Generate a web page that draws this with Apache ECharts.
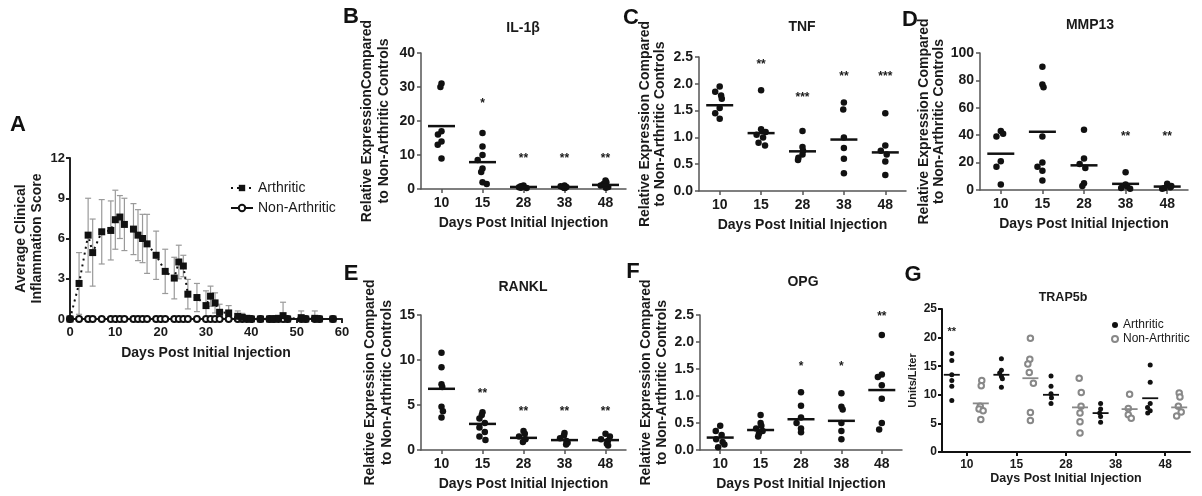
<!DOCTYPE html>
<html><head><meta charset="utf-8">
<script src="https://cdn.jsdelivr.net/npm/echarts@6/dist/echarts.min.js"></script>
<style>html,body{margin:0;padding:0;background:#fff}#c{width:1202px;height:496px}</style>
</head><body><div id="c"></div>
<script>
// ---------- DATA ----------
// Panel A: clinical inflammation score over time
const arthDays  = [0,2,4,5,7,9,10,11,12,14,15,16,17,19,21,23,24,25,26,28,30,31,32,33,35,37,38,39,40,42,44,45,46,47,48,51,52,54,55,58];
const arthMean  = [0,2.65,6.25,4.95,6.5,6.6,7.4,7.6,7.05,6.7,6.25,6.0,5.6,4.75,3.55,3.05,4.25,3.95,1.85,1.6,1.0,1.7,1.2,0.5,0.45,0.2,0.12,0.05,0,0,0,0,0.05,0.25,0,0.1,0,0.05,0,0];
const arthSD    = [0,2.3,2.75,2.5,2.4,2.2,2.2,1.6,1.95,1.9,1.9,1.8,2.2,1.8,1.65,1.55,1.25,0.8,1.1,1.05,1.1,0.75,0.75,0.6,0.55,0.4,0.3,0.2,0,0,0,0.1,0.15,1.0,0,0.5,0,0.55,0,0];
const nonDays   = [0,2,4,5,7,9,10,11,12,14,15,16,17,19,20,21,23,24,25,26,28,30,31,32,33,35,37,38,39,40,42,44,45,46,47,48,51,52,54,55,58];
const nonScore  = [0,0,0,0,0,0,0,0,0,0,0,0,0,0,0,0,0,0,0,0,0,0,0,0,0,0,0,0,0,0,0,0,0,0,0,0,0,0,0,0,0];

// Panels B-G: categories
const dayCats = ['10','15','28','38','48'];

const il1b      = [[31,30,17,16,14,13,9],[16.5,12.5,10,8.5,6,5,2,1.5],[1.0,0.8,0.6,0.5,0.4,0.3],[1.0,0.8,0.6,0.5,0.4,0.3],[2.5,2.0,1.5,1.0,0.6,0.4]];
const il1bLine  = [18.5,7.9,0.6,0.6,1.2];
const il1bStars = ['','*','**','**','**'];
const il1bStarY = [null,25,9,9,9];

const tnf       = [[1.95,1.85,1.78,1.72,1.55,1.45,1.35],[1.88,1.15,1.1,1.05,1.0,0.9,0.85],[1.12,0.82,0.75,0.68,0.62,0.58],[1.65,1.52,1.0,0.8,0.6,0.33],[1.45,0.85,0.75,0.68,0.55,0.3]];
const tnfLine   = [1.6,1.08,0.74,0.96,0.72];
const tnfStars  = ['','**','***','**','***'];
const tnfStarY  = [null,2.35,1.75,2.13,2.13];

const mmp13      = [[43,41,39,21,17,4],[90,77,75,39,20,17,14,7],[44,23,19,16,5,3],[13,4,2.5,1.5,1],[4.5,3,2,1.5,1]];
const mmp13Line  = [26.5,42.5,18,4.5,2.5];
const mmp13Stars = ['','','','**','**'];
const mmp13StarY = [null,null,null,39,39];

const rankl      = [[10.8,9.2,7.3,7.0,4.8,4.3,3.6],[4.2,3.9,3.5,3.0,2.5,2.0,1.5,1.1],[2.1,1.8,1.5,1.2,0.9],[1.9,1.6,1.3,1.0,0.8,0.6],[1.8,1.5,1.2,1.0,0.7,0.5]];
const ranklLine  = [6.8,2.9,1.35,1.1,1.1];
const ranklStars = ['','**','**','**','**'];
const ranklStarY = [null,6.3,4.3,4.3,4.3];

const opg      = [[0.45,0.35,0.28,0.2,0.15,0.1,0.05],[0.65,0.5,0.45,0.4,0.35,0.3,0.25],[1.07,0.82,0.6,0.5,0.4,0.33],[1.05,0.8,0.75,0.5,0.35,0.2],[2.13,1.4,1.35,1.2,0.95,0.5,0.38]];
const opgLine  = [0.23,0.37,0.57,0.54,1.11];
const opgStars = ['','','*','*','**'];
const opgStarY = [null,null,1.54,1.54,2.47];

const trapArth      = [[17.2,16,13.5,12.5,11.5,9],[16.3,14.3,13.8,13.2,12.8,11.3],[13.3,11.5,10.2,9.5,8.5],[8.5,7.5,6.8,6.2,5.2],[15.2,12.2,8.5,7.8,7.2,6.8]];
const trapArthLine  = [13.5,13.5,10,6.8,9.4];
const trapNon       = [[12.5,11.6,8,7.5,7.2,5.7],[19.9,16.2,15.4,13.9,12,6.9,5.5],[12.9,10.4,8,6.8,5.3,3.3],[10.1,7.6,6.5,5.9],[10.3,9.6,8,7,6.3]];
const trapNonLine   = [8.5,12.9,7.8,7.5,7.8];
const trapStars     = ['**','','','',''];
const trapStarY     = [21,null,null,null,null];

// ---------- STYLE / HELPERS ----------
const FONT = '"Liberation Sans", Arial, Helvetica, sans-serif';
const TXT = '#1a1a1a';
const AX = '#555';
const YNAME = 'Relative Expression Compared\nto Non-Arthritic Controls';

function grid(l, t, w, h) { return {left:l, top:t, width:w, height:h, containLabel:false, outerBoundsMode:'none'}; }

function xCat(gi, o) {
  return {type:'category', gridIndex:gi, data:dayCats,
    jitter:o.jitter, jitterOverlap:false, jitterMargin:0.5,
    name:'Days Post Initial Injection', nameLocation:'middle', nameGap:o.nameGap,
    nameTextStyle:{fontFamily:FONT, fontWeight:'bold', fontSize:o.nameSize, color:TXT},
    axisLine:{show:true, lineStyle:{color:o.color, width:o.lw}},
    axisTick:{show:true, alignWithLabel:true, length:4, lineStyle:{color:o.color, width:o.lw}},
    axisLabel:{fontFamily:FONT, fontWeight:'bold', fontSize:o.labelSize, color:TXT, margin:o.margin},
    splitLine:{show:false}};
}
function yVal(gi, max, interval, name, o) {
  return {type:'value', gridIndex:gi, min:0, max:max, interval:interval,
    name:name, nameLocation:'middle', nameGap:o.nameGap, nameRotate:90,
    nameTextStyle:{fontFamily:FONT, fontWeight:'bold', fontSize:o.nameSize, color:TXT, lineHeight:o.lh, align:'center'},
    axisLine:{show:true, lineStyle:{color:o.color, width:o.lw}},
    axisTick:{show:true, length:4, lineStyle:{color:o.color, width:o.lw}},
    axisLabel:{fontFamily:FONT, fontWeight:'bold', fontSize:o.labelSize, color:TXT, margin:o.margin,
      formatter: o.fixed ? (v => v.toFixed(o.fixed)) : (v => String(v))},
    splitLine:{show:false}};
}

function points(arr) { const p = []; arr.forEach((vals, i) => vals.forEach(v => p.push([i, v]))); return p; }
function lineData(arr) { return arr.map((v, i) => [i, v]); }

function catSeries(gi, vals, line, stars, starY, o) {
  o = o || {};
  const off = o.offset || 0;
  const lw = (o.lineSize || [27, 2.5]);
  const lc = o.lineColor || '#111';
  const s = [
    {type:'scatter', xAxisIndex:gi, yAxisIndex:gi, name:o.name, data:points(vals),
     symbol:o.symbol || 'circle', symbolSize:o.size || 6.5, symbolOffset:[off, 0],
     itemStyle:{color:o.color || '#111', borderColor:o.border || '#111', borderWidth:o.bw || 0, opacity:1}, z:3},
    {type:'custom', xAxisIndex:gi, yAxisIndex:gi, data:lineData(line), z:4,
     renderItem:(p, api) => {
       const c = api.coord([api.value(0), api.value(1)]);
       return {type:'rect', shape:{x:c[0] + off - lw[0] / 2, y:c[1] - lw[1] / 2, width:lw[0], height:lw[1]}, style:{fill:lc}};
     }}
  ];
  if (stars) {
    const idx = [], d = [];
    stars.forEach((t, i) => { if (t) { idx.push(t); d.push([i, starY[i]]); } });
    s.push({type:'custom', xAxisIndex:gi, yAxisIndex:gi, data:d, z:5,
      renderItem:(p, api) => {
        const c = api.coord([api.value(0), api.value(1)]);
        return {type:'text', x:c[0] + off, y:c[1], style:{text:idx[p.dataIndex], font:'bold ' + (o.starSize || 12) + 'px ' + FONT,
          fill:TXT, align:'center', verticalAlign:'middle', textAlign:'center', textVerticalAlign:'middle'}};
      }});
  }
  return s;
}

const panelStd = {nameGap:27, nameSize:14, color:AX, lw:1.5, labelSize:14, margin:7, jitter:10};

// ---------- CHART ----------
const chart = echarts.init(document.getElementById('c'), null, {renderer:'canvas'});
const option = {
  animation:false,
  backgroundColor:'#fff',
  grid:[
    grid(70, 158, 272, 161),   // A
    grid(421, 53, 205, 136),   // B
    grid(699, 57, 207, 134),   // C
    grid(980, 53, 208, 137),   // D
    grid(421, 315, 205, 135),  // E
    grid(700, 315, 202, 135),  // F
    grid(942, 309, 248, 143)   // G
  ],
  xAxis:[
    {type:'value', gridIndex:0, min:0, max:60, interval:10,
     name:'Days Post Initial Injection', nameLocation:'middle', nameGap:27,
     nameTextStyle:{fontFamily:FONT, fontWeight:'bold', fontSize:14, color:TXT},
     axisLine:{show:true, onZero:false, lineStyle:{color:'#222', width:2}},
     axisTick:{show:true, length:4, lineStyle:{color:'#222', width:2}},
     axisLabel:{fontFamily:FONT, fontWeight:'bold', fontSize:13, color:TXT, margin:7},
     splitLine:{show:false}},
    xCat(1, panelStd), xCat(2, panelStd), xCat(3, panelStd), xCat(4, panelStd), xCat(5, panelStd),
    xCat(6, {nameGap:20, nameSize:12.5, color:'#111', lw:2, labelSize:12, margin:7, jitter:6})
  ],
  yAxis:[
    yVal(0, 12, 3, 'Average Clinical\nInflammation Score', {nameGap:25, nameSize:14, lh:16, color:'#222', lw:2, labelSize:13, margin:5}),
    yVal(1, 40, 10, 'Relative ExpressionCompared\nto Non-Arthritic Controls', Object.assign({}, panelStd, {nameGap:28, lh:17, margin:6})),
    yVal(2, 2.5, 0.5, YNAME, Object.assign({}, panelStd, {nameGap:31, lh:15, margin:6, fixed:1})),
    yVal(3, 100, 20, YNAME, Object.assign({}, panelStd, {nameGap:22, lh:15, margin:6})),
    yVal(4, 15, 5, YNAME, Object.assign({}, panelStd, {nameGap:24, lh:17, margin:6})),
    yVal(5, 2.5, 0.5, YNAME, Object.assign({}, panelStd, {nameGap:29, lh:16, margin:6, fixed:1})),
    yVal(6, 25, 5, 'Units/Liter', {nameGap:18, nameSize:11, lh:13, color:'#111', lw:2, labelSize:12, margin:5})
  ],
  legend:[
    {data:['Arthritic','Non-Arthritic'], orient:'vertical', left:225, top:176, itemWidth:22, itemHeight:8, itemGap:6,
     selectedMode:false, textStyle:{fontFamily:FONT, fontSize:14, color:TXT}},
    {data:['G Arthritic','G Non-Arthritic'], orient:'vertical', left:1106, top:314, itemWidth:6, itemHeight:6, itemGap:2,
     selectedMode:false, formatter:n => n.replace('G ', ''), textStyle:{fontFamily:FONT, fontSize:12, color:TXT}}
  ],
  series:[
    // A: error bars
    {type:'custom', xAxisIndex:0, yAxisIndex:0, z:1,
     data:arthDays.map((d, i) => [d, arthMean[i], arthSD[i]]),
     renderItem:(params, api) => {
       const x = api.value(0), m = api.value(1), s = api.value(2);
       if (!s) return {type:'group', children:[]};
       const hi = api.coord([x, m + s]), lo = api.coord([x, Math.max(0, m - s)]);
       const w = 3, st = {stroke:'#9a9a9a', lineWidth:1.2};
       return {type:'group', children:[
         {type:'line', shape:{x1:hi[0], y1:hi[1], x2:lo[0], y2:lo[1]}, style:st},
         {type:'line', shape:{x1:hi[0]-w, y1:hi[1], x2:hi[0]+w, y2:hi[1]}, style:st},
         {type:'line', shape:{x1:lo[0]-w, y1:lo[1], x2:lo[0]+w, y2:lo[1]}, style:st}
       ]};
     }},
    {type:'line', name:'Non-Arthritic', xAxisIndex:0, yAxisIndex:0, z:2,
     data:nonDays.map((d, i) => [d, nonScore[i]]),
     symbol:'emptyCircle', symbolSize:6, showSymbol:true,
     lineStyle:{color:'#111', width:1.5}, itemStyle:{color:'#111', borderColor:'#111', borderWidth:1.5}},
    {type:'line', name:'Arthritic', xAxisIndex:0, yAxisIndex:0, z:3,
     data:arthDays.map((d, i) => [d, arthMean[i]]),
     symbol:'rect', symbolSize:7, showSymbol:true,
     lineStyle:{color:'#111', width:2, type:[2, 4]}, itemStyle:{color:'#111'}},
    ...catSeries(1, il1b, il1bLine, il1bStars, il1bStarY),
    ...catSeries(2, tnf, tnfLine, tnfStars, tnfStarY),
    ...catSeries(3, mmp13, mmp13Line, mmp13Stars, mmp13StarY),
    ...catSeries(4, rankl, ranklLine, ranklStars, ranklStarY),
    ...catSeries(5, opg, opgLine, opgStars, opgStarY),
    ...catSeries(6, trapArth, trapArthLine, trapStars, trapStarY,
        {name:'G Arthritic', offset:-15, size:5, lineSize:[16, 1.8], starSize:11}),
    ...catSeries(6, trapNon, trapNonLine, null, null,
        {name:'G Non-Arthritic', offset:14, size:5.5, symbol:'emptyCircle', color:'#888', border:'#888', bw:1.2,
         lineSize:[16, 1.8], lineColor:'#888'})
  ],
  graphic:[
    ['A', 18, 125], ['B', 351, 17], ['C', 631, 18], ['D', 910, 20], ['E', 351, 274], ['F', 633, 272], ['G', 913, 275]
  ].map(t => ({type:'text', x:t[1], y:t[2], silent:true,
      style:{text:t[0], font:'bold 22px ' + FONT, fill:'#111', textAlign:'center', textVerticalAlign:'middle', align:'center', verticalAlign:'middle'}}))
  .concat([
    ['IL-1β', 523, 28, 14], ['TNF', 802, 27, 14], ['MMP13', 1090, 25, 14], ['RANKL', 523, 287, 14], ['OPG', 803, 282, 14], ['TRAP5b', 1063, 298, 12.5]
  ].map(t => ({type:'text', x:t[1], y:t[2], silent:true,
      style:{text:t[0], font:'bold ' + t[3] + 'px ' + FONT, fill:TXT, textAlign:'center', textVerticalAlign:'middle', align:'center', verticalAlign:'middle'}})))
};
chart.setOption(option);
</script>
</body></html>
